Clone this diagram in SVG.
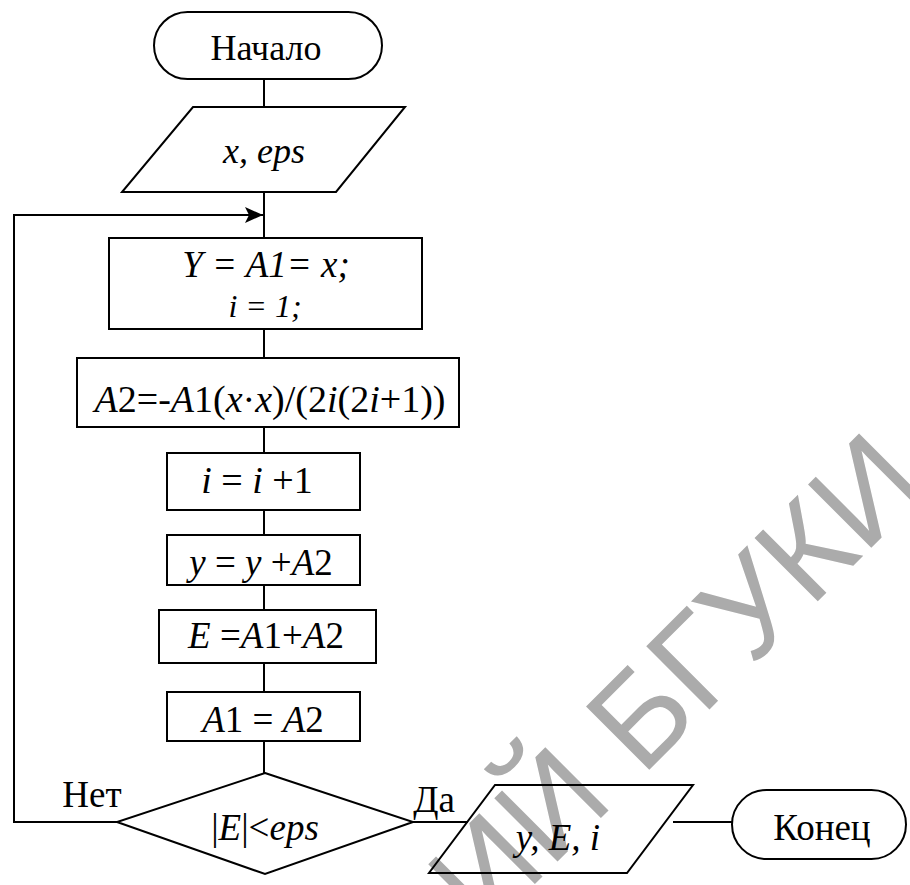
<svg xmlns="http://www.w3.org/2000/svg" width="910" height="885" viewBox="0 0 910 885">
<style>
.sh{fill:none;stroke:#000;stroke-width:2}
.ln{fill:none;stroke:#000;stroke-width:2}
.t{font-family:"Liberation Serif","Times New Roman",serif;font-size:37px;fill:#000;text-anchor:middle}
.it{font-style:italic}
.wm{font-family:"Liberation Sans",Arial,sans-serif;font-size:130px;fill:#ababab}
</style>
<defs>
<marker id="arr" markerWidth="18" markerHeight="16" refX="18" refY="8" orient="auto" markerUnits="userSpaceOnUse">
<path d="M0,0 L18,8 L0,16 L4,8 Z" fill="#000"/>
</marker>
</defs>
<rect width="910" height="885" fill="#fff"/>
<g id="watermark">
<text class="wm" transform="translate(484,935) rotate(-45)">ИЙ БГУКИ</text>
</g>
<g id="connectors">
<line class="ln" x1="264" y1="79" x2="264" y2="107"/>
<line class="ln" x1="264" y1="192" x2="264" y2="238"/>
<polyline class="ln" points="117,822 14,822 14,215 263,215" marker-end="url(#arr)"/>
<line class="ln" x1="264" y1="329" x2="264" y2="358"/>
<line class="ln" x1="264" y1="427" x2="264" y2="453"/>
<line class="ln" x1="264" y1="510" x2="264" y2="535"/>
<line class="ln" x1="264" y1="585" x2="264" y2="610"/>
<line class="ln" x1="264" y1="663" x2="264" y2="692"/>
<line class="ln" x1="264" y1="741" x2="264" y2="773"/>
<line class="ln" x1="413" y1="822" x2="468" y2="822"/>
<line class="ln" x1="673" y1="822" x2="732" y2="822"/>
</g>
<g id="start">
<rect class="sh" x="154" y="12" width="228" height="67" rx="33.5"/>
<text class="t" x="266" y="60" style="font-size:36px">Начало</text>
</g>
<g id="input">
<polygon class="sh" points="193,107 405,107 336,192 122,192"/>
<text class="t it" x="264" y="163" style="font-size:36px">x, eps</text>
</g>
<g id="init">
<rect class="sh" x="109" y="238" width="313" height="91"/>
<text class="t it" x="266" y="277">Y = A1= x;</text>
<text class="t it" x="265" y="317" style="font-size:32px">i = 1;</text>
</g>
<g id="calcA2">
<rect class="sh" x="77" y="358" width="382" height="69"/>
<text class="t" x="270" y="412" style="font-size:38px"><tspan class="it">A</tspan>2=-<tspan class="it">A</tspan>1(<tspan class="it">x</tspan>·<tspan class="it">x</tspan>)/(2<tspan class="it">i</tspan>(2<tspan class="it">i</tspan>+1))</text>
</g>
<g id="inc_i">
<rect class="sh" x="167" y="453" width="193" height="57"/>
<text class="t" x="257" y="493" style="font-size:38px"><tspan class="it">i</tspan> = <tspan class="it">i</tspan> +1</text>
</g>
<g id="sum_y">
<rect class="sh" x="167" y="535" width="193" height="50"/>
<text class="t" x="261" y="575"><tspan class="it">y</tspan> = <tspan class="it">y</tspan> +<tspan class="it">A</tspan>2</text>
</g>
<g id="calcE">
<rect class="sh" x="159" y="610" width="217" height="53"/>
<text class="t" x="266" y="648"><tspan class="it">E</tspan> =<tspan class="it">A</tspan>1+<tspan class="it">A</tspan>2</text>
</g>
<g id="assignA1">
<rect class="sh" x="167" y="692" width="193" height="49"/>
<text class="t" x="263" y="732"><tspan class="it">A</tspan>1 = <tspan class="it">A</tspan>2</text>
</g>
<g id="decision">
<polygon class="sh" points="265,773 413,822 265,874 117,822"/>
<text class="t" x="265" y="840">|<tspan class="it">E</tspan>|&lt;<tspan class="it">eps</tspan></text>
<text class="t" x="92" y="807">Нет</text>
<text class="t" x="434" y="812">Да</text>
</g>
<g id="output">
<polygon class="sh" points="495,785 693,785 627,873 429,873"/>
<text class="t it" x="558" y="850">y, E, i</text>
</g>
<g id="end">
<rect class="sh" x="732" y="790" width="174" height="69" rx="34.5"/>
<text class="t" x="822" y="840">Конец</text>
</g>
</svg>
